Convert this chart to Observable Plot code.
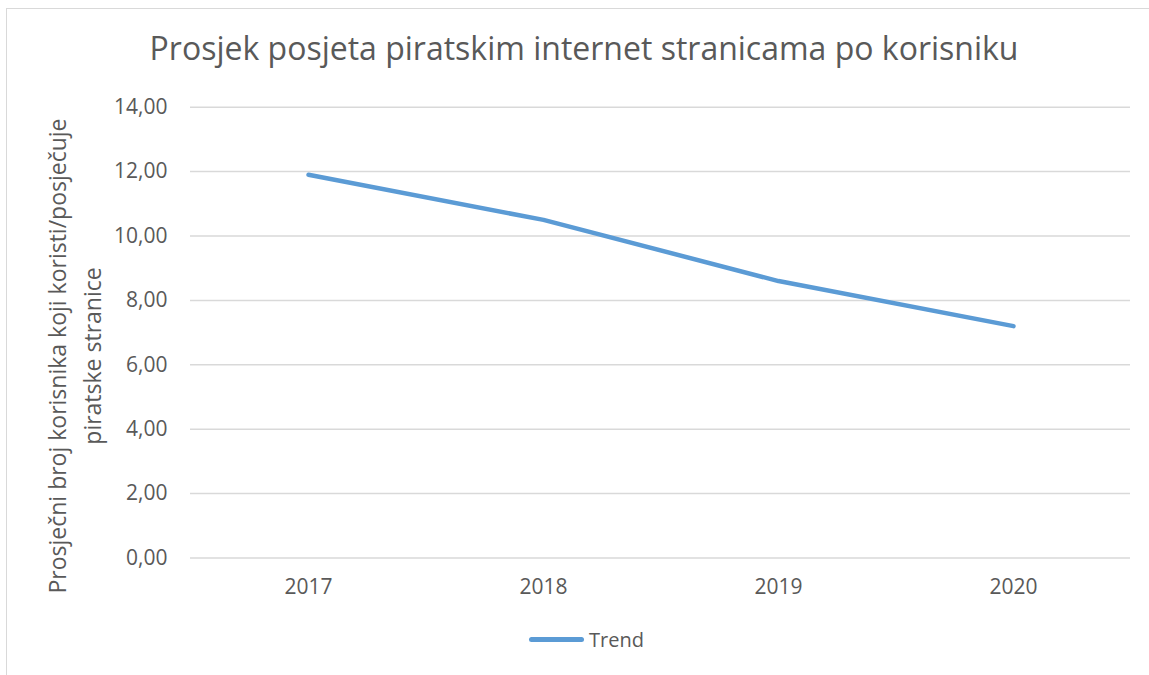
<!DOCTYPE html>
<html>
<head>
<meta charset="utf-8">
<script src="https://cdn.jsdelivr.net/npm/d3@7"></script>
<script src="https://cdn.jsdelivr.net/npm/@observablehq/plot@0.6"></script>
<style>
  html, body { margin: 0; padding: 0; background: #fff; overflow: hidden; }
  #page { position: relative; width: 1149px; height: 675px; font-family: "Open Sans", sans-serif; color: #595959; overflow: hidden; }
  #frame { position: absolute; left: 6px; top: 8px; width: 1200px; height: 720px; border: 1.5px solid #d9d9d9; box-sizing: border-box; }
  #title { position: absolute; left: 0; top: 26px; width: 1168px; text-align: center; font-size: 32px; color: #595959; white-space: nowrap; }
  #chart { position: absolute; left: 0; top: 0; }
  #ylabel { position: absolute; left: 75px; top: 356px; transform: translate(-50%, -50%) rotate(-90deg); text-align: center; font-size: 23px; line-height: 35px; white-space: nowrap; color: #595959; }
  #legend { position: absolute; left: 529px; top: 626px; display: flex; align-items: center; font-size: 20px; color: #595959; }
  #legend .sw { width: 55px; height: 5px; border-radius: 3px; background: #5B9BD5; margin-right: 5px; }
</style>
</head>
<body>
<div id="page">
  <div id="frame"></div>
  <div id="chart"></div>
  <div id="title">Prosjek posjeta piratskim internet stranicama po korisniku</div>
  <div id="ylabel">Prosječni broj korisnika koji koristi/posječuje<br>piratske stranice</div>
  <div id="legend"><div class="sw"></div><span>Trend</span></div>
</div>
<script>
const years = ["2017", "2018", "2019", "2020"];
const trend = [11.9, 10.5, 8.6, 7.2];
const yTicks = [0, 2, 4, 6, 8, 10, 12, 14];

const data = years.map((y, i) => ({year: y, value: trend[i]}));
const fmt = v => v.toFixed(2).replace(".", ",");

const plot = Plot.plot({
  width: 1149,
  height: 620,
  marginTop: 106.7,
  marginBottom: 62.5,
  marginLeft: 190,
  marginRight: 19,
  style: {background: "transparent", fontFamily: "Open Sans, sans-serif", color: "#595959"},
  x: {type: "point", domain: years, padding: 0.5, label: null},
  y: {domain: [0, 14], label: null},
  marks: [
    Plot.ruleY(yTicks, {stroke: "#d9d9d9", strokeWidth: 1.5}),
    Plot.axisY({ticks: yTicks, tickFormat: fmt, tickSize: 0, tickPadding: 23, fontSize: 21, fill: "#595959", label: null}),
    Plot.axisX({tickSize: 0, tickPadding: 21, fontSize: 21, fill: "#595959", label: null}),
    Plot.line(data, {x: "year", y: "value", stroke: "#5B9BD5", strokeWidth: 4.5, strokeLinecap: "round", strokeLinejoin: "round"})
  ]
});
document.getElementById("chart").appendChild(plot);
</script>
</body>
</html>
